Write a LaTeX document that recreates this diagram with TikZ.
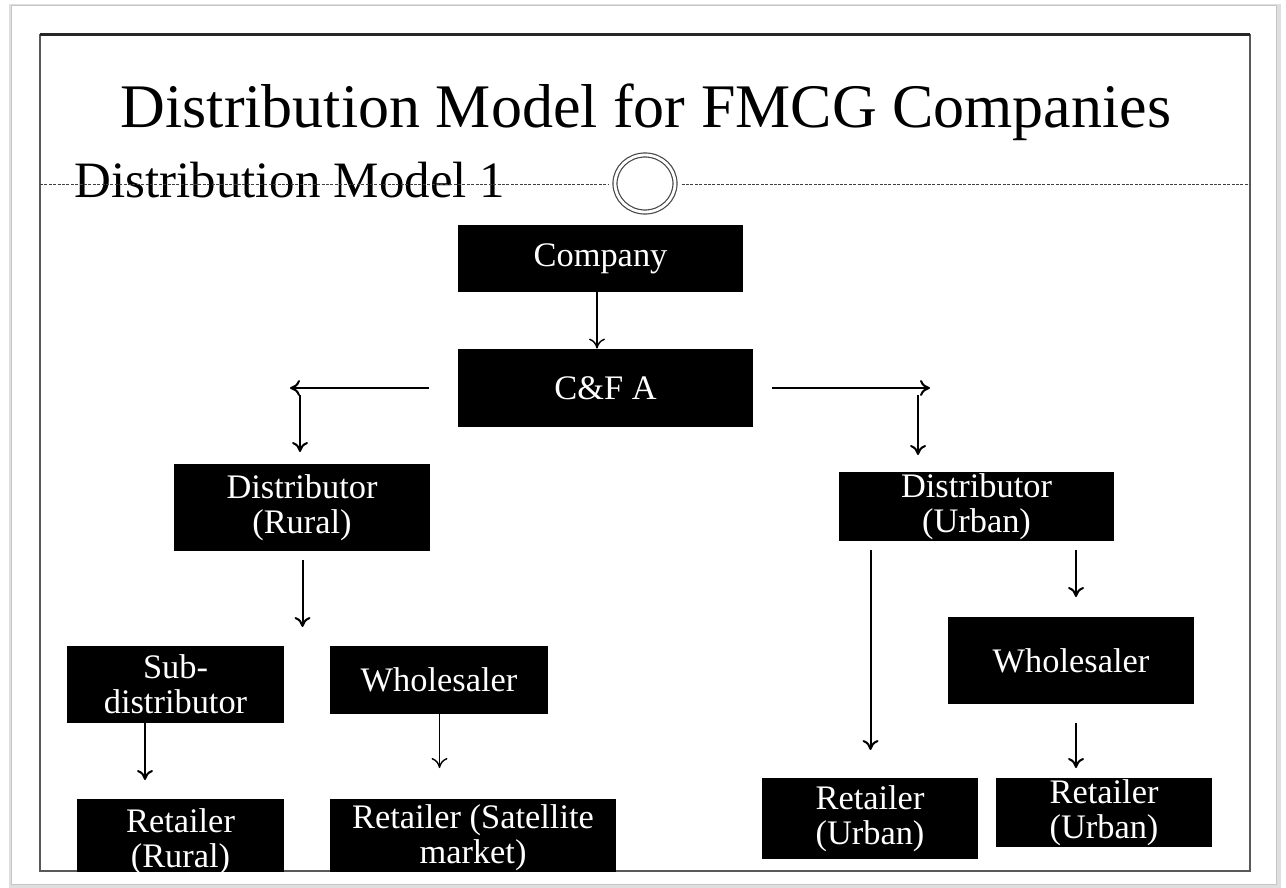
\documentclass[tikz,border=0pt]{standalone}
\usepackage{fontspec}
\setmainfont{Liberation Serif}
\usetikzlibrary{arrows.meta,shapes.geometric}

\begin{document}
\begin{tikzpicture}[x=0.5pt,y=-0.5pt]
	\tikzstyle{b} = [fill=black, text=white, align=center, inner sep=0pt, font=\fontsize{17.2}{17.5}\selectfont]
	\tikzstyle{a} = [-{To[length=5pt,width=8pt]}, line width=1pt]
	\useasboundingbox (0,0) rectangle (1286,888);

	% slide card and frame
	\draw[gray!25, line width=3pt] (12,7) rectangle (1278,885);
	\fill[white] (11,6) rectangle (1276,884);
	\draw[gray!45, line width=0.5pt] (11,6) rectangle (1276,884);
	\draw[gray!70!black, line width=0.9pt] (40,34.5) rectangle (1250,871);
	\draw[black!85, line width=1.3pt] (40,34.5) -- (1250,34.5);

	% headings
	\node[anchor=base, inner sep=0pt, font=\fontsize{31}{32}\selectfont] (title) at (646,127) {Distribution Model for FMCG Companies};
	\node[anchor=base west, inner sep=0pt, font=\fontsize{25.5}{26}\selectfont] (model) at (74,198) {Distribution Model 1};
	\node[ellipse, draw=gray!55!black, double=white, double distance=1.4pt, line width=0.6pt,
		minimum width=30pt, minimum height=28.5pt, inner sep=0pt] (ring) at (645,183.5) {};
	\draw[gray!50!black, dash pattern=on 1.5pt off 0.7pt, line width=0.45pt]
		(40,184.5) -- ([xshift=-3pt]ring.west |- 0,184.5)
		([xshift=3pt]ring.east |- 0,184.5) -- (1250,184.5);

	\begin{scope}
		\clip (40,34.5) rectangle (1250,871);
		% boxes
		\node[b, minimum width=142.5pt, minimum height=33.5pt] (company) at (600.5,258.5) {Company};
		\node[b, minimum width=147.5pt, minimum height=39pt] (cfa) at (605.5,388) {C\&F A};
		\node[b, minimum width=128pt, minimum height=43.5pt] (drural) at (302,507.5) {Distributor\\(Rural)};
		\node[b, minimum width=137.5pt, minimum height=34.5pt] (durban) at (976.5,506.5) {Distributor\\(Urban)};
		\node[b, minimum width=108.5pt, minimum height=38.5pt] (subdist) at (175.5,684.5) {Sub-\\distributor};
		\node[b, minimum width=109pt, minimum height=34pt] (wsrural) at (439,680) {Wholesaler};
		\node[b, minimum width=103.5pt, minimum height=43pt] (rrural) at (180.5,842) {Retailer\\(Rural)};
		\node[b, minimum width=143pt, minimum height=38.5pt] (rsat) at (473,837.5) {Retailer (Satellite\\market)};
		\node[b, minimum width=123pt, minimum height=43.5pt] (wsurban) at (1071,660.5) {Wholesaler};
		\node[b, minimum width=108pt, minimum height=40.5pt] (rurban) at (870,818.5) {Retailer\\(Urban)};
		\node[b, minimum width=108pt, minimum height=34.5pt] (rurbanb) at (1104,812.5) {Retailer\\(Urban)};
	\end{scope}

	% loose arrow ends
	\coordinate (lfrom) at (429,388);
	\coordinate (lto) at (290,388);
	\coordinate (ldown) at (300,395);
	\coordinate (ldownto) at (300,452);
	\coordinate (rfrom) at (772,388);
	\coordinate (rto) at (930,388);
	\coordinate (rdown) at (918,395);
	\coordinate (rdownto) at (918,455);
	\coordinate (drfrom) at (302.5,560);
	\coordinate (drto) at (302.5,627);
	\coordinate (sdto) at (145,780);
	\coordinate (wrto) at (439.5,768);
	\coordinate (dufrom) at (870.5,550);
	\coordinate (duto) at (870.5,750);
	\coordinate (duwfrom) at (1076,550);
	\coordinate (duwto) at (1076,597);
	\coordinate (wufrom) at (1076,723);
	\coordinate (wuto) at (1076,768);

	% arrows
	\draw[a, line width=0.7pt] (company.south -| 597,0) -- (cfa.north -| 597,0);
	\draw[a] (lfrom) -- (lto);
	\draw[a] (ldown) -- (ldownto);
	\draw[a] (rfrom) -- (rto);
	\draw[a] (rdown) -- (rdownto);
	\draw[a] (drfrom) -- (drto);
	\draw[a] (subdist.south -| sdto) -- (sdto);
	\draw[a, line width=0.7pt] (wsrural.south -| wrto) -- (wrto);
	\draw[a] (dufrom) -- (duto);
	\draw[a] (duwfrom) -- (duwto);
	\draw[a] (wufrom) -- (wuto);
\end{tikzpicture}
\end{document}
